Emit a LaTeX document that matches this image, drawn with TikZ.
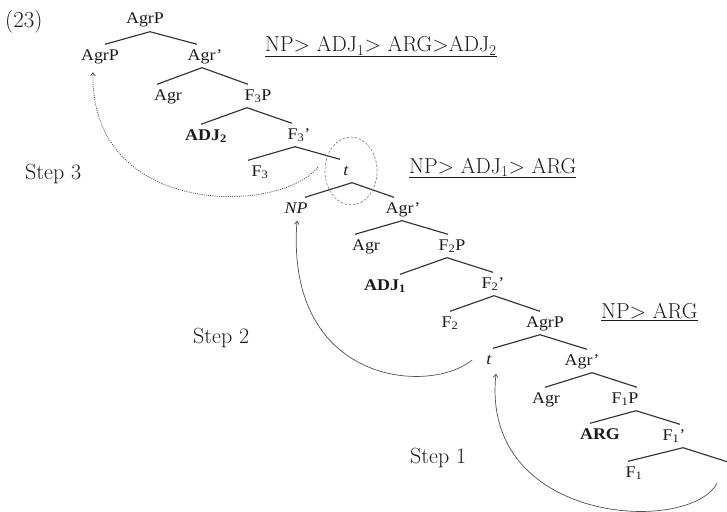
\documentclass[tikz,border=0pt]{standalone}
\usepackage{fontspec}
\usetikzlibrary{arrows.meta}
\newfontfamily\treefont{Liberation Serif}[FakeStretch=1.1]
\definecolor{ink}{HTML}{1A1A1A}
\definecolor{edgecol}{HTML}{333333}
\definecolor{movecol}{HTML}{505050}
\definecolor{ringcol}{HTML}{8A8A8A}
\newcommand\treeedge[4]{\draw[branch] ([xshift=#2pt]#1.south) -- ([xshift=#4pt]#3.north);}
\begin{document}
\begin{tikzpicture}[x=1pt,y=-1pt,
  lbl/.style={anchor=base, inner sep=0pt, text height=15.5pt, text depth=7.5pt,
    font=\treefont\fontsize{16.3}{19}\selectfont, text=ink},
  head/.style={anchor=base west, inner sep=0pt, text=ink, font=\fontsize{21.6}{26}\selectfont},
  steplbl/.style={anchor=base west, inner sep=0pt, text=ink, font=\fontsize{22}{26}\selectfont},
  branch/.style={draw=edgecol, line width=1.15pt},
  movedot/.style={draw=movecol, line width=0.8pt, dash pattern=on 1pt off 1.2pt,
    -{Straight Barb[length=3pt,width=4.5pt]}},
  moveline/.style={draw=movecol, line width=0.7pt,
    -{Straight Barb[length=3pt,width=4.5pt]}},
  focus/.style={draw=ringcol, line width=0.7pt, dash pattern=on 2.5pt off 1.6pt}]
\useasboundingbox (0,0) rectangle (727,511);
\clip (0,0) rectangle (727,511);

% example number, orders and step labels
\node[steplbl, font=\fontsize{23}{27}\selectfont] (ex) at (5,28) {(23)};
\node[head] (h3) at (265,52) {\underline{NP> ADJ\textsubscript{1}> ARG>ADJ\textsubscript{2}}};
\node[head] (h2) at (409,173) {\underline{NP> ADJ\textsubscript{1}> ARG}};
\node[head] (h1) at (601,318) {\underline{NP> ARG}};
\node[steplbl] (s3) at (25,179) {Step 3};
\node[steplbl] (s2) at (193,343) {Step 2};
\node[steplbl] (s1) at (410,463) {Step 1};

% tree labels
\node[lbl] (agrP0) at (145,24) {AgrP};
\node[lbl] (agrPa) at (100,60) {AgrP};
\node[lbl] (agr1b) at (205,60) {Agr’};
\node[lbl] (agr1) at (168,100) {Agr};
\node[lbl] (f3p) at (258,100) {F\textsubscript{3}P};
\node[lbl] (adj2) at (206,140) {\textbf{ADJ\textsubscript{2}}};
\node[lbl] (f3b) at (299,139) {F\textsubscript{3}’};
\node[lbl] (f3) at (260,176) {F\textsubscript{3}};
\node[lbl] (t3) at (346,175) {\textit{t}};
\node[lbl] (np) at (296,213) {\textit{NP}};
\node[lbl] (agr2b) at (403,213) {Agr’};
\node[lbl] (agr2) at (366,250) {Agr};
\node[lbl] (f2p) at (452,250) {F\textsubscript{2}P};
\node[lbl] (adj1) at (385,290) {\textbf{ADJ\textsubscript{1}}};
\node[lbl] (f2b) at (493,288) {F\textsubscript{2}’};
\node[lbl] (f2) at (450,327) {F\textsubscript{2}};
\node[lbl] (agrPb) at (545,327) {AgrP};
\node[lbl] (t2) at (489,364) {\textit{t}};
\node[lbl] (agr3b) at (582,365) {Agr’};
\node[lbl] (agr3) at (546,403) {Agr};
\node[lbl] (f1p) at (625,403) {F\textsubscript{1}P};
\node[lbl] (arg) at (600,439) {\textbf{ARG}};
\node[lbl] (f1b) at (674,440) {F\textsubscript{1}’};
\node[lbl] (f1) at (634,477) {F\textsubscript{1}};
\node[lbl] (t1) at (729,478) {\textit{t}};

% branches
\treeedge{agrP0}{5}{agrPa}{5}
\treeedge{agrP0}{5}{agr1b}{-8}
\treeedge{agr1b}{-3}{agr1}{-11}
\treeedge{agr1b}{-3}{f3p}{-10}
\treeedge{f3p}{-11}{adj2}{-5}
\treeedge{f3p}{-11}{f3b}{-7}
\treeedge{f3b}{-4}{f3}{-12}
\treeedge{f3b}{-4}{t3}{-6}
\treeedge{t3}{6}{np}{9}
\treeedge{t3}{6}{agr2b}{-9}
\treeedge{agr2b}{-1}{agr2}{-11}
\treeedge{agr2b}{-1}{f2p}{-4}
\treeedge{f2p}{-5}{adj1}{15}
\treeedge{f2p}{-5}{f2b}{0}
\treeedge{f2b}{1}{f2}{0}
\treeedge{f2b}{1}{agrPb}{-5}
\treeedge{agrPb}{-5}{t2}{4}
\treeedge{agrPb}{-5}{agr3b}{5}
\treeedge{agr3b}{10}{agr3}{-1}
\treeedge{agr3b}{10}{f1p}{12}
\treeedge{f1p}{11}{arg}{-10}
\treeedge{f1p}{11}{f1b}{6}
\treeedge{f1b}{9}{f1}{-6}
\treeedge{f1b}{9}{t1}{0}

% dashed ring round the trace
\draw[focus] ([xshift=5pt]t3.center) ellipse [x radius=26pt, y radius=34pt];

% movement arrows
\draw[movedot] ([xshift=-25pt,yshift=4pt]t3.west) .. controls (280,215) and (90,218) .. ([xshift=-7pt,yshift=-4.5pt]agrPa.south);
\draw[moveline] ([xshift=-14pt]t2.west) .. controls (430,395) and (285,385) .. ([xshift=1pt]np.south);
\draw[moveline] ([xshift=-9pt,yshift=-9pt]t1.west) .. controls (690,535) and (480,525) .. ([xshift=7pt,yshift=-2pt]t2.south);
\end{tikzpicture}
\end{document}
